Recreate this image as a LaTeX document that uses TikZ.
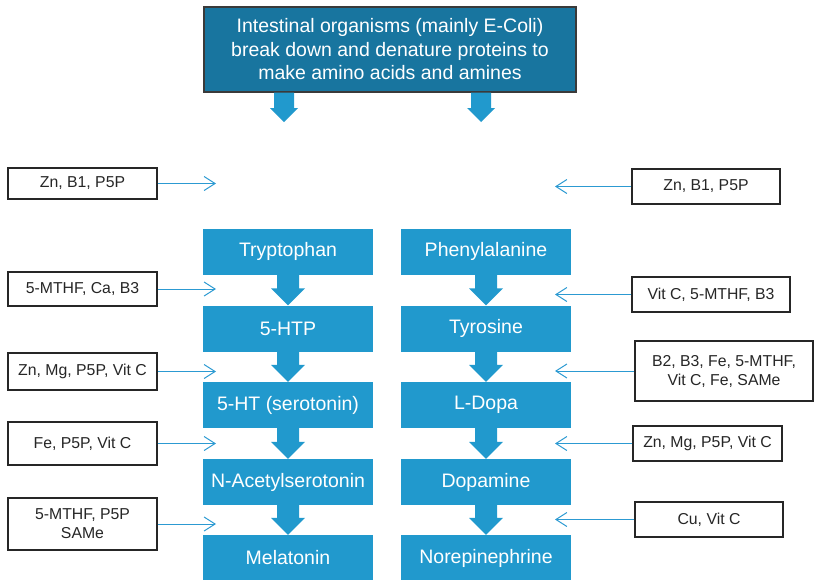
\documentclass[tikz,border=0pt]{standalone}
\usepackage{fontspec}
\setmainfont{Liberation Sans}
\usetikzlibrary{arrows.meta,calc}
\definecolor{topblue}{HTML}{18759F}
\definecolor{boxblue}{HTML}{2199CD}
\definecolor{lineblue}{HTML}{2C9AD2}
\definecolor{txtgray}{HTML}{262626}
\definecolor{edgegray}{HTML}{3A3A3A}
\tikzset{
  topbox/.style={draw=edgegray, line width=1.3pt, fill=topblue, text=white, inner sep=0pt,
    minimum width=372pt, minimum height=85pt, align=center, font=\fontsize{19.5}{23.5}\selectfont},
  chem/.style={fill=boxblue, text=white, minimum width=170pt, minimum height=46pt, inner sep=0pt,
    font=\fontsize{19.5}{23.5}\selectfont},
  cof/.style={draw=txtgray, line width=1.1pt, fill=white, text=txtgray, inner sep=0pt, align=center,
    font=\fontsize{15.8}{19}\selectfont},
  feed/.style={draw=lineblue, line width=1pt, -{Straight Barb[length=11pt,width=14pt,line width=1pt]}},
}
% #1 start (shaft top centre), #2 tip, #3 shaft half width, #4 head half width, #5 head length
\newcommand\blockarrow[5]{%
  \fill[boxblue] let \p1=(#1), \p2=(#2) in
    (\x1-#3,\y1) -- (\x1+#3,\y1) -- (\x1+#3,\y2+#5) -- (\x1+#4,\y2+#5) -- (\x2,\y2)
    -- (\x1-#4,\y2+#5) -- (\x1-#3,\y2+#5) -- cycle;}
\begin{document}
\begin{tikzpicture}[x=1pt,y=-1pt]
\useasboundingbox (0,0) rectangle (814,579);

\node[topbox] (top) at (390,49.5) {Intestinal organisms (mainly E-Coli)\\break down and denature proteins to\\make amino acids and amines};
\coordinate (ta1) at (284,122);
\coordinate (ta2) at (481,122);
\blockarrow{top.south -| ta1}{ta1}{10}{14}{14}
\blockarrow{top.south -| ta2}{ta2}{10}{14}{14}

% left chain
\node[chem] (a1) at (288,251.5) {Tryptophan};
\node[chem] (a2) at (288,328.5) {5-HTP};
\node[chem] (a3) at (288,405) {5-HT (serotonin)};
\node[chem] (a4) at (288,482) {N-Acetylserotonin};
\node[chem] (a5) at (288,558) {Melatonin};
% right chain
\node[chem] (b1) at (486,251.5) {Phenylalanine};
\node[chem] (b2) at (486,328.5) {Tyrosine};
\node[chem] (b3) at (486,405) {L-Dopa};
\node[chem] (b4) at (486,482) {Dopamine};
\node[chem] (b5) at (486,558) {Norepinephrine};

\foreach \u/\v in {a1/a2,a2/a3,a3/a4,a4/a5,b1/b2,b2/b3,b3/b4,b4/b5}{
  \blockarrow{\u.south}{\v.north}{11}{17}{17}
}

% left cofactors
\node[cof, minimum width=149pt, minimum height=31pt] (l1) at (82.5,183.5) {Zn, B1, P5P};
\node[cof, minimum width=149pt, minimum height=34pt] (l2) at (82.5,289) {5-MTHF, Ca, B3};
\node[cof, minimum width=149pt, minimum height=37pt] (l3) at (82.5,371.5) {Zn, Mg, P5P, Vit C};
\node[cof, minimum width=149pt, minimum height=43pt] (l4) at (82.5,443.5) {Fe, P5P, Vit C};
\node[cof, minimum width=149pt, minimum height=52pt] (l5) at (82.5,524) {5-MTHF, P5P\\SAMe};
% right cofactors
\node[cof, minimum width=148pt, minimum height=35pt] (r1) at (706,186.5) {Zn, B1, P5P};
\node[cof, minimum width=158pt, minimum height=35pt] (r2) at (711,294.5) {Vit C, 5-MTHF, B3};
\node[cof, minimum width=178pt, minimum height=60pt] (r3) at (724,371) {B2, B3, Fe, 5-MTHF,\\Vit C, Fe, SAMe};
\node[cof, minimum width=149pt, minimum height=35pt] (r4) at (707.5,443.5) {Zn, Mg, P5P, Vit C};
\node[cof, minimum width=148pt, minimum height=35pt] (r5) at (709,519.5) {Cu, Vit C};

\coordinate (lt) at (216,0);
\coordinate (rt) at (555,0);
\foreach \n in {l1,l2,l3,l4,l5}{\draw[feed] (\n.east) -- (\n.east -| lt);}
\foreach \n in {r1,r2,r3,r4,r5}{\draw[feed] (\n.west) -- (\n.west -| rt);}
\end{tikzpicture}
\end{document}
